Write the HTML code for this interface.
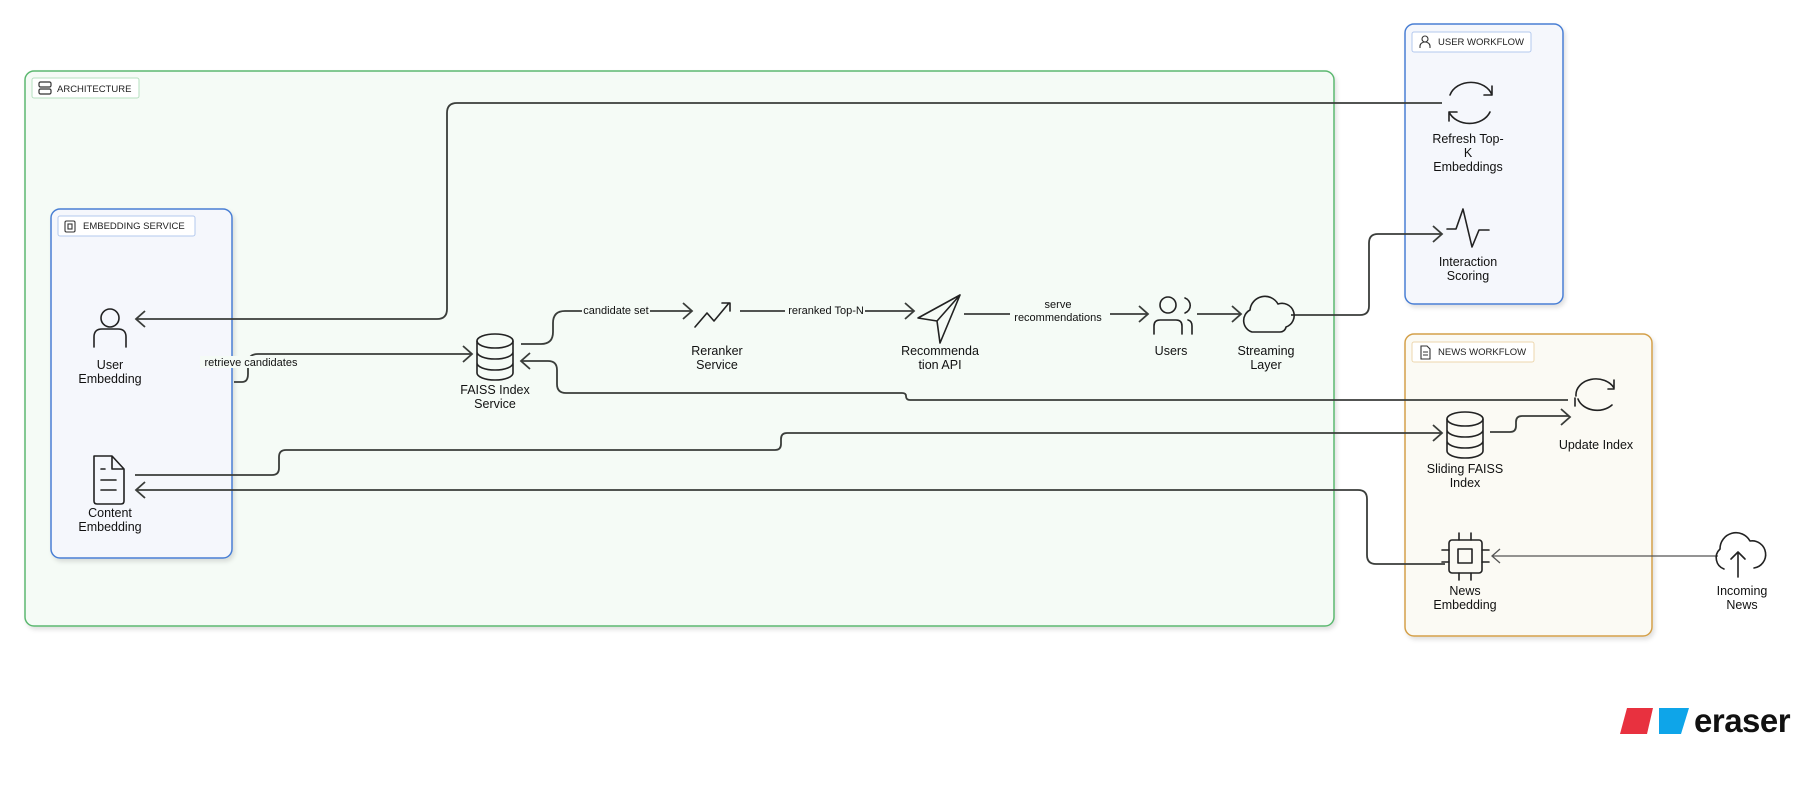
<!DOCTYPE html>
<html><head><meta charset="utf-8"><style>
html,body{margin:0;padding:0;background:#fff}
svg{display:block;font-family:"Liberation Sans",Arial,sans-serif}
</style></head><body>
<svg width="1808" height="810" viewBox="0 0 1808 810" xmlns="http://www.w3.org/2000/svg">
<defs>
<filter id="sh" x="-5%" y="-5%" width="110%" height="110%"><feDropShadow dx="2" dy="3" stdDeviation="2" flood-color="#000" flood-opacity="0.12"/></filter>
</defs>
<rect x="25" y="71" width="1309" height="555" rx="9" fill="#f5fbf6" stroke="#5cb870" stroke-width="1.5" filter="url(#sh)"/>
<rect x="32" y="78" width="107" height="20" rx="2" fill="#fff" stroke="#b6e0c0"/>
<g fill="none" stroke="#333" stroke-width="1.2"><rect x="39" y="82" width="12" height="5" rx="1.5"/><rect x="39" y="89" width="12" height="5" rx="1.5"/></g>
<text x="57" y="92" font-size="9.5" fill="#222">ARCHITECTURE</text>

<rect x="51" y="209" width="181" height="349" rx="9" fill="#f5f7fc" stroke="#4a7fd4" stroke-width="1.5" filter="url(#sh)"/>
<rect x="58" y="216" width="137" height="20" rx="2" fill="#fff" stroke="#b3c8ee"/>
<g fill="none" stroke="#333" stroke-width="1.1"><rect x="65" y="221" width="10" height="11" rx="1.5"/><rect x="68" y="224" width="4" height="5"/></g>
<text x="83" y="229" font-size="9.5" fill="#222">EMBEDDING SERVICE</text>

<rect x="1405" y="24" width="158" height="280" rx="9" fill="#f5f7fc" stroke="#4a7fd4" stroke-width="1.5" filter="url(#sh)"/>
<rect x="1412" y="32" width="119" height="20" rx="2" fill="#fff" stroke="#b3c8ee"/>
<g fill="none" stroke="#333" stroke-width="1.1"><circle cx="1425" cy="39" r="3"/><path d="M1420 48 v-2 a5 4 0 0 1 10 0 v2"/></g>
<text x="1438" y="45" font-size="9.5" fill="#222">USER WORKFLOW</text>

<rect x="1405" y="334" width="247" height="302" rx="9" fill="#fbfaf4" stroke="#d4a04a" stroke-width="1.5" filter="url(#sh)"/>
<rect x="1412" y="342" width="122" height="20" rx="2" fill="#fff" stroke="#ecd7ae"/>
<g fill="none" stroke="#333" stroke-width="1.1"><path d="M1421 346 h6 l3 3 v10 h-9 z M1423 352 h5 M1423 355 h5"/></g>
<text x="1438" y="355" font-size="9.5" fill="#222">NEWS WORKFLOW</text>

<g fill="none" stroke="#3a3d3a" stroke-width="1.8">
<path d="M1442 103 H457 q-10 0 -10 10 V309 q0 10 -10 10 H136"/>
<path d="M145 311 l-9 8 l9 8"/>
<path d="M234 382 h8 q6 0 6 -8 v-10 q0 -10 10 -10 H471"/>
<path d="M463 346 l9 8 l-9 8"/>
<path d="M521 344 h20 q12 0 12 -12 v-9 q0 -12 12 -12 H691"/>
<path d="M683 303 l9 8 l-9 8"/>
<path d="M740 311 H913"/>
<path d="M905 303 l9 8 l-9 8"/>
<path d="M964 314 H1147"/>
<path d="M1139 306 l9 8 l-9 8"/>
<path d="M1197 314 H1240"/>
<path d="M1232 306 l9 8 l-9 8"/>
<path d="M1291 315 H1360 q9 0 9 -9 V243 q0 -9 9 -9 H1441"/>
<path d="M1433 226 l9 8 l-9 8"/>
<path d="M1568 400 H910 q-4 0 -4 -4 q0 -3 -4 -3 H566 q-9 0 -9 -9 v-14 q0 -9 -9 -9 H522"/>
<path d="M530 353 l-9 8 l9 8"/>
<path d="M135 475 H272 q7 0 7 -7 v-11 q0 -7 7 -7 H775 q6 0 6 -6 v-5 q0 -6 6 -6 H1441"/>
<path d="M1433 425 l9 8 l-9 8"/>
<path d="M1445 564 H1376 q-9 0 -9 -9 V499 q0 -9 -9 -9 H136"/>
<path d="M145 482 l-9 8 l9 8"/>
<path d="M1490 432 h20 q6 0 6 -6 v-4 q0 -6 6 -6 H1569"/>
<path d="M1561 409 l9 8 l-9 8"/>
</g>
<path d="M1718 556 H1492" stroke="#555" stroke-width="1.3" fill="none"/>
<path d="M1500 549 l-8 7 l8 7" stroke="#555" stroke-width="1.3" fill="none"/>

<g font-size="11" fill="#111" text-anchor="middle">
<rect x="200" y="356" width="102" height="12" fill="#f5fbf6"/>
<text x="251" y="366">retrieve candidates</text>
<rect x="582" y="304" width="68" height="12" fill="#f5fbf6"/>
<text x="616" y="314">candidate set</text>
<rect x="785" y="304" width="80" height="12" fill="#f5fbf6"/>
<text x="826" y="314">reranked Top-N</text>
<rect x="1010" y="298" width="100" height="24" fill="#f5fbf6"/>
<text x="1058" y="308">serve</text>
<text x="1058" y="321">recommendations</text>
</g>

<g fill="none" stroke="#222" stroke-width="1.6" stroke-linecap="round" stroke-linejoin="round">
<circle cx="110" cy="318" r="9"/>
<path d="M94 347 v-10 q0 -8 8 -8 h16 q8 0 8 8 v10"/>
<path d="M94 456 h18 l12 13 v32 q0 3 -3 3 h-24 q-3 0 -3 -3 z M112 456 v13 h12 M101 469 h4 M101 480 h15 M101 490 h15"/>
<ellipse cx="495" cy="341" rx="18" ry="7"/><path d="M477 341 v32 a18 7 0 0 0 36 0 v-32 M477 352 a18 7 0 0 0 36 0 M477 363 a18 7 0 0 0 36 0"/>
<ellipse cx="1465" cy="419" rx="18" ry="7"/><path d="M1447 419 v32 a18 7 0 0 0 36 0 v-32 M1447 430 a18 7 0 0 0 36 0 M1447 441 a18 7 0 0 0 36 0"/>
<path d="M695 327 l12 -14 l7 8 l15 -18 M722 303 h8 v8"/>
<path d="M918 318 l42 -23 l-20 48 l-3 -22 z M937 321 l23 -26"/>
<circle cx="1168" cy="305" r="8"/><path d="M1154 334 v-8 q0 -6 6 -6 h16 q6 0 6 6 v8 M1185 298 a8 8 0 0 1 0 15 M1192 334 v-8 q0 -5 -4 -6"/>
<path d="M1252 332 a12 12 0 0 1 -2 -22 a15 15 0 0 1 28 -6 a12 12 0 0 1 8 23 a6 6 0 0 1 -6 5 z"/>
<path d="M1450 95 a22 18 0 0 1 42 0 M1492 95 v-9 M1492 95 h-8 M1490 112 a22 18 0 0 1 -41 0 M1449 112 v9 M1449 112 h8"/>
<path d="M1447 229 h9 l7 -20 l9 38 l7 -17 h10"/>
<path d="M1576 396 a20 16 0 0 1 38 -8 M1614 388 v-8 M1614 389 h-6 M1612 405 a20 16 0 0 1 -34 -6 M1575 398 v8"/>
<rect x="1449" y="540" width="33" height="33" rx="3"/><rect x="1458" y="549" width="14" height="14"/>
<path d="M1459 540 v-7 M1471 540 v-7 M1459 573 v7 M1471 573 v7 M1449 550 h-7 M1449 562 h-7 M1482 550 h7 M1482 562 h7"/>
<path d="M1724 569 a12 12 0 0 1 -4 -20 a16 16 0 0 1 30 -8 a12 12 0 0 1 4 27 M1738 577 v-25 M1731 559 l7 -7 l7 7"/>
</g>

<g font-size="12.5" fill="#111" text-anchor="middle">
<text x="110" y="369">User</text><text x="110" y="383">Embedding</text>
<text x="110" y="517">Content</text><text x="110" y="531">Embedding</text>
<text x="495" y="394">FAISS Index</text><text x="495" y="408">Service</text>
<text x="717" y="355">Reranker</text><text x="717" y="369">Service</text>
<text x="940" y="355">Recommenda</text><text x="940" y="369">tion API</text>
<text x="1171" y="355">Users</text>
<text x="1266" y="355">Streaming</text><text x="1266" y="369">Layer</text>
<text x="1468" y="143">Refresh Top-</text><text x="1468" y="157">K</text><text x="1468" y="171">Embeddings</text>
<text x="1468" y="266">Interaction</text><text x="1468" y="280">Scoring</text>
<text x="1596" y="449">Update Index</text>
<text x="1465" y="473">Sliding FAISS</text><text x="1465" y="487">Index</text>
<text x="1465" y="595">News</text><text x="1465" y="609">Embedding</text>
<text x="1742" y="595">Incoming</text><text x="1742" y="609">News</text>
</g>

<path d="M1627 708 h26 l-6 26 h-27 z" fill="#e8313f"/>
<path d="M1659 708 h30 l-8 26 h-22 z" fill="#0ea5e9"/>
<text x="1694" y="732" font-size="33" font-weight="bold" fill="#111" letter-spacing="-0.5">eraser</text>
</svg>
</body></html>
